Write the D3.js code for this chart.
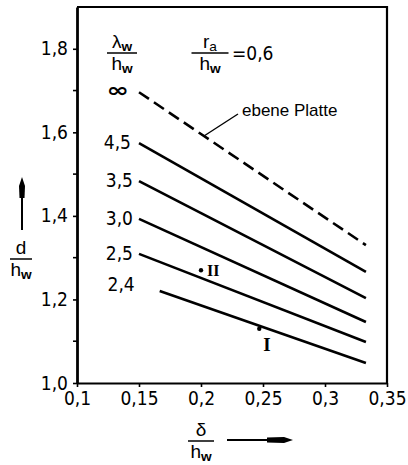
<!DOCTYPE html>
<html>
<head>
<meta charset="utf-8">
<script src="https://cdn.jsdelivr.net/npm/d3@7"></script>
<style>
  html, body { margin: 0; padding: 0; background: #fff; }
  svg { display: block; }
  .num { font-family: "Liberation Sans Narrow", "DejaVu Sans Condensed", "Arial Narrow", sans-serif; font-size: 19px; fill: #000; }
  .txt { font-family: "Liberation Sans", Arial, sans-serif; fill: #000; }
</style>
</head>
<body>
<svg id="chart" width="408" height="465"></svg>
<script>
// Curve family d/h_w over δ/h_w for several λ_w/h_w, r_a/h_w = 0,6
const ratioLabels = ["∞", "4,5", "3,5", "3,0", "2,5", "2,4"];
const xStart = [0.15, 0.15, 0.15, 0.15, 0.15, 0.1667];
const xEnd   = [0.333, 0.333, 0.333, 0.333, 0.333, 0.333];
const yStart = [1.696, 1.574, 1.483, 1.393, 1.309, 1.220];
const yEnd   = [1.330, 1.266, 1.203, 1.146, 1.098, 1.048];

// Measured design points
const pointNames = ["I", "II"];
const pointX = [0.247, 0.2];
const pointY = [1.13, 1.27];

// Axis ticks
const xTicks = [0.1, 0.15, 0.2, 0.25, 0.3, 0.35];
const yTicksMajor = [1.0, 1.2, 1.4, 1.6, 1.8];
const yTicksMinor = [1.1, 1.3, 1.5, 1.7];

const svg = d3.select("#chart");
const plotL = 77, plotR = 387, plotT = 7, plotB = 383;

const x = d3.scaleLinear().domain([0.1, 0.35]).range([plotL, plotR]);
const y = d3.scaleLinear().domain([1.0, 1.9]).range([plotB, plotT]);

// Frame
svg.append("path")
  .attr("d", `M${plotL},${plotT}H${plotR}V${plotB}`)
  .attr("fill", "none").attr("stroke", "#000").attr("stroke-width", 2.2);

// Bottom axis
const gx = svg.append("g").attr("transform", `translate(0,${plotB})`)
  .call(d3.axisBottom(x).tickValues(xTicks).tickSize(4).tickSizeOuter(0)
    .tickFormat(d => d3.format(".2~f")(d).replace(".", ",")));
gx.select(".domain").attr("stroke-width", 2.2);
gx.selectAll(".tick line").attr("stroke-width", 1.6);
gx.selectAll(".tick text").attr("class", "num").attr("y", 9).attr("dy", "0.71em");
gx.attr("font-size", null).attr("font-family", null);

// Left axis
const gy = svg.append("g").attr("transform", `translate(${plotL},0)`)
  .call(d3.axisLeft(y).tickValues(yTicksMajor).tickSize(4).tickSizeOuter(0)
    .tickFormat(d => d3.format(".1f")(d).replace(".", ",")));
gy.select(".domain").attr("stroke-width", 2.8);
gy.selectAll(".tick line").attr("stroke-width", 1.6);
gy.selectAll(".tick text").attr("class", "num").attr("x", -9);
gy.attr("font-size", null).attr("font-family", null);
svg.append("g").selectAll("line").data(yTicksMinor).join("line")
  .attr("x1", plotL - 4).attr("x2", plotL)
  .attr("y1", d => y(d)).attr("y2", d => y(d))
  .attr("stroke", "#000").attr("stroke-width", 1.6);

// Curves
const curves = ratioLabels.map((lab, i) => ({
  lab, x0: xStart[i], x1: xEnd[i], y0: yStart[i], y1: yEnd[i], dashed: lab === "∞"
}));
svg.append("g").selectAll("line").data(curves).join("line")
  .attr("x1", d => x(d.x0)).attr("y1", d => y(d.y0))
  .attr("x2", d => x(d.x1)).attr("y2", d => y(d.y1))
  .attr("stroke", "#000").attr("stroke-width", 2.6)
  .attr("stroke-dasharray", d => d.dashed ? "12,6" : null);

// Curve labels, placed left of each curve start
const labelShift = [[-10, -2], [-8, -1], [-6, -1], [-6, -1], [-6, -1], [-25, -7]];
svg.append("g").selectAll("text").data(curves).join("text")
  .attr("class", "num")
  .attr("transform", (d, i) => {
    const tx = x(d.x0) + labelShift[i][0], ty = y(d.y0) + labelShift[i][1];
    return i === 0 ? `translate(${tx},${ty}) scale(1.35,1)` : `translate(${tx},${ty})`;
  })
  .attr("text-anchor", "end").attr("dominant-baseline", "central")
  .style("font-size", (d, i) => i === 0 ? "20px" : null)
  .style("font-family", (d, i) => i === 0 ? "'DejaVu Sans', sans-serif" : null)
  .style("font-weight", (d, i) => i === 0 ? "bold" : null)
  .text(d => d.lab);

// Leader line and note for the flat plate curve
const lx = 0.2024, ly = yStart[0] + (lx - xStart[0]) * (yEnd[0] - yStart[0]) / (xEnd[0] - xStart[0]);
svg.append("line")
  .attr("x1", x(lx)).attr("y1", y(ly)).attr("x2", x(lx) + 34).attr("y2", y(ly) - 22)
  .attr("stroke", "#000").attr("stroke-width", 1.4);
svg.append("text").attr("class", "txt")
  .attr("x", x(lx) + 38).attr("y", y(ly) - 26)
  .attr("dominant-baseline", "central").attr("font-size", 17)
  .text("ebene Platte");

// Design points
const pts = pointNames.map((n, i) => ({ n, px: pointX[i], py: pointY[i] }));
svg.append("g").selectAll("circle").data(pts).join("circle")
  .attr("cx", d => x(d.px)).attr("cy", d => y(d.py)).attr("r", 2.2).attr("fill", "#000");
svg.append("text").attr("font-family", "Liberation Serif, serif").attr("font-weight", "bold")
  .attr("font-size", 16).attr("x", x(pointX[1]) + 6).attr("y", y(pointY[1]) + 6).text(pointNames[1]);
svg.append("text").attr("font-family", "Liberation Serif, serif").attr("font-weight", "bold")
  .attr("font-size", 19).attr("x", x(pointX[0]) + 4).attr("y", y(pointY[0]) + 22).text(pointNames[0]);

// Fraction helper: numerator / denominator with optional bold subscripts
function fraction(cx, cy, w, num, numSub, den, denSub, size, subBold) {
  const g = svg.append("g").attr("class", "txt");
  g.append("line").attr("x1", cx - w / 2).attr("x2", cx + w / 2)
    .attr("y1", cy).attr("y2", cy).attr("stroke", "#000").attr("stroke-width", 1.5);
  const t1 = g.append("text").attr("x", cx).attr("y", cy - 5).attr("text-anchor", "middle")
    .attr("font-size", size);
  t1.append("tspan").text(num);
  if (numSub) t1.append("tspan").attr("dy", 3).attr("font-size", size * 0.72)
    .attr("font-weight", subBold ? "bold" : null).text(numSub);
  const t2 = g.append("text").attr("x", cx).attr("y", cy + 17).attr("text-anchor", "middle")
    .attr("font-size", size);
  t2.append("tspan").text(den);
  if (denSub) t2.append("tspan").attr("dy", 3).attr("font-size", size * 0.72)
    .attr("font-weight", "bold").text(denSub);
  return g;
}

fraction(122, 53, 30, "λ", "w", "h", "w", 19, true);
fraction(210, 53, 37, "r", "a", "h", "w", 19, false);
svg.append("text").attr("class", "num").attr("x", 232).attr("y", 53)
  .attr("dominant-baseline", "central").text("=0,6");

// Axis titles with arrows
fraction(21, 259, 22, "d", null, "h", "w", 19, true);
svg.append("line").attr("x1", 22).attr("x2", 22).attr("y1", 230).attr("y2", 192)
  .attr("stroke", "#000").attr("stroke-width", 2);
svg.append("path").attr("d", "M22,177 L25,186 L24.5,198 L19.5,198 L19,186 Z").attr("fill", "#000");

fraction(201, 441, 26, "δ", null, "h", "w", 19, true);
svg.append("line").attr("x1", 227).attr("x2", 272).attr("y1", 440).attr("y2", 440)
  .attr("stroke", "#000").attr("stroke-width", 2);
svg.append("path").attr("d", "M293,440 L284,437 L267,437.5 L267,442.5 L284,443 Z").attr("fill", "#000");
</script>
</body>
</html>
